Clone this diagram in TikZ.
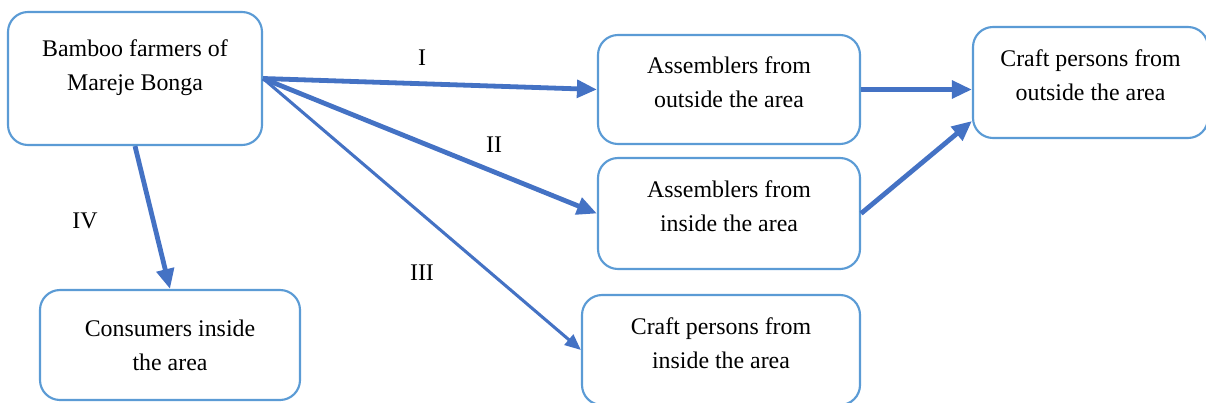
\documentclass[tikz,border=0pt]{standalone}
\usepackage{fontspec}
\setmainfont{Liberation Serif}
\usepackage{tikz}
\usetikzlibrary{arrows.meta}
\definecolor{boxline}{HTML}{5B9BD5}
\definecolor{flow}{HTML}{4472C4}

\begin{document}
\begin{tikzpicture}[x=0.75pt, y=-0.75pt, actor/.style={draw=boxline, line width=1.6pt, rounded corners=15pt, align=center, font=\fontsize{17.9}{25.5}\selectfont}, flowarrow/.style={-{Triangle[length=15pt,width=13pt]}, draw=flow, line width=3.6pt}, thinflow/.style={-{Triangle[length=12pt,width=10pt]}, draw=flow, line width=2.3pt}, route/.style={font=\fontsize{17.9}{21}\selectfont}]
\useasboundingbox (0,0) rectangle (1206,403);
\node[actor, minimum width=190.5pt, minimum height=99.75pt] (farmers) at (135,78.5) {Bamboo farmers of\\Mareje Bonga\\[-5.5pt]\mbox{}};
\node[actor, minimum width=196.5pt, minimum height=81.75pt] (asmout) at (729,89.5) {Assemblers from\\outside the area\\[-15pt]\mbox{}};
\node[actor, minimum width=176.25pt, minimum height=83.25pt] (craftout) at (1090.5,82.5) {Craft persons from\\outside the area\\[-15pt]\mbox{}};
\node[actor, minimum width=196.5pt, minimum height=83.25pt] (asmin) at (729,213.5) {Assemblers from\\inside the area\\[-15pt]\mbox{}};
\node[actor, minimum width=208.5pt, minimum height=82.5pt] (craftin) at (721,350) {Craft persons from\\inside the area\\[-15pt]\mbox{}};
\node[actor, minimum width=195pt, minimum height=82.5pt] (consumers) at (170,345) {Consumers inside\\the area};
\draw[flowarrow] (farmers.east) -- (asmout.west);
\draw[flowarrow] (farmers.east) -- (asmin.west);
\draw[thinflow] (farmers.east) -- (craftin.west);
\draw[flowarrow] (farmers.south) -- (consumers.north);
\draw[flowarrow] (asmout.east) -- (asmout.east -| craftout.west);
\draw[flowarrow] (asmin.east) -- (craftout.198);
\node[route] (r1) at (422,58) {I};
\node[route] (r2) at (494,145) {II};
\node[route] (r3) at (422,273) {III};
\node[route] (r4) at (85,221) {IV};
\end{tikzpicture}
\end{document}
